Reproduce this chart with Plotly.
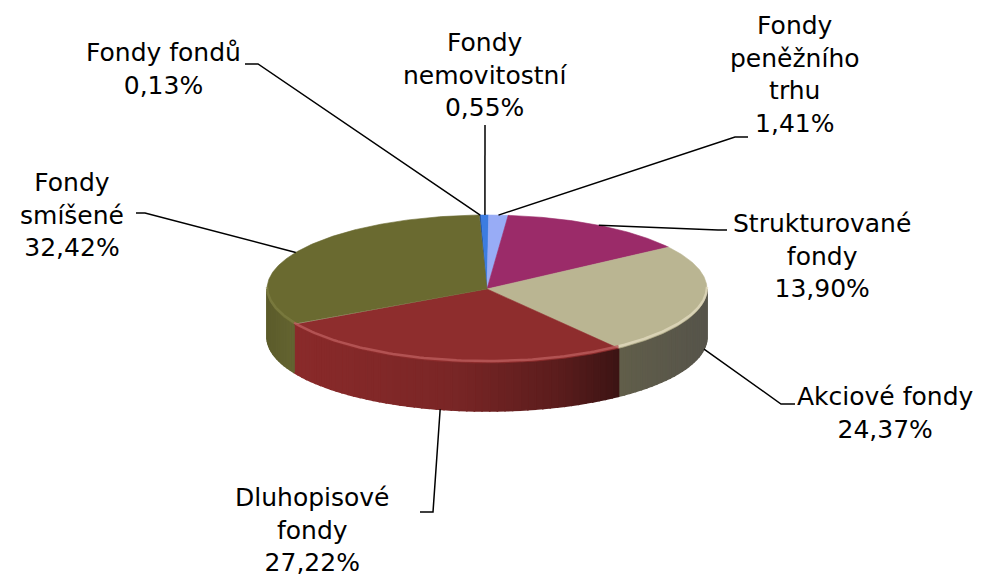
import numpy as np
import plotly.graph_objects as go

# ---- data ----
categories = ["Fondy fondů", "Fondy nemovitostní", "Fondy peněžního trhu",
              "Strukturované fondy", "Akciové fondy", "Dluhopisové fondy", "Fondy smíšené"]
values = [0.13, 0.55, 1.41, 13.90, 24.37, 27.22, 32.42]
label_lines = [["Fondy fondů"], ["Fondy", "nemovitostní"], ["Fondy", "peněžního", "trhu"],
               ["Strukturované", "fondy"], ["Akciové fondy"], ["Dluhopisové", "fondy"],
               ["Fondy", "smíšené"]]

# ---- style / layout ----
top_colors = ["#1f55b0", "#3c7ce0", "#98acf6", "#9b2b69", "#bab592", "#8e2d2d", "#6a6a30"]
side_stops = {
    4: [(618, "#615e4a"), (705, "#56544a")],
    5: [(293, "#8a2a2a"), (450, "#7a2626"), (560, "#5a1c1c"), (618, "#3c1414")],
    6: [(267, "#5c5c2b"), (294, "#646431")],
}
CX, CY, RX, RY, DEPTH, START = 487, 289, 220, 74, 48, -2.0
# label block centres and leader start points (layout)
label_pos = [(163, 69), (485, 75), (795, 74), (822, 256), (885, 413), (312, 530), (72, 215)]
leader_from = [[(245, 64), (258, 64)], [(485, 125)], [(748, 137), (735, 137)],
               [(727, 230), (718, 230)], [(795, 404), (781, 404)],
               [(420, 512), (433, 512)], [(136, 213), (145, 213)]]
FONT = dict(family="DejaVu Sans, Liberation Sans, Arial, sans-serif", size=25, color="#000000")


def pt(theta, dy=0.0):
    t = np.radians(theta)
    return CX + RX * np.sin(t), CY - RY * np.cos(t) + dy


def hex2rgb(h):
    h = h.lstrip("#")
    return np.array([int(h[i:i + 2], 16) for i in (0, 2, 4)], dtype=float)


def interp_color(stops, x):
    xs = [s[0] for s in stops]
    cols = [hex2rgb(s[1]) for s in stops]
    if x <= xs[0]:
        c = cols[0]
    elif x >= xs[-1]:
        c = cols[-1]
    else:
        for k in range(len(xs) - 1):
            if xs[k] <= x <= xs[k + 1]:
                f = (x - xs[k]) / (xs[k + 1] - xs[k])
                c = cols[k] * (1 - f) + cols[k + 1] * f
                break
    return "rgb(%d,%d,%d)" % tuple(np.round(c).astype(int))


total = float(sum(values))
cum = START + np.concatenate([[0.0], np.cumsum(values)]) / total * 360.0

fig = go.Figure()

# ---- sides (front half only) ----
for i in range(len(values)):
    a0, a1 = max(cum[i], 90.0), min(cum[i + 1], 270.0)
    if a1 <= a0:
        continue
    n = max(1, int(np.ceil((a1 - a0) / 2.0)))
    edges = np.linspace(a0, a1, n + 1)
    for j in range(n):
        t0, t1 = edges[j], edges[j + 1]
        ts = np.linspace(t0, t1, 4)
        topx, topy = pt(ts)
        botx, boty = pt(ts[::-1], DEPTH)
        xs = list(topx) + list(botx) + [topx[0]]
        ys = list(topy) + list(boty) + [topy[0]]
        mx = pt((t0 + t1) / 2)[0]
        col = interp_color(side_stops.get(i, [(0, top_colors[i])]), mx)
        fig.add_trace(go.Scatter(x=xs, y=ys, mode="lines", fill="toself",
                                 fillcolor=col, line=dict(color=col, width=1.6),
                                 hoverinfo="skip", showlegend=False))

# ---- top surfaces ----
for i in range(len(values)):
    ts = np.linspace(cum[i], cum[i + 1], max(2, int((cum[i + 1] - cum[i]) * 2) + 2))
    ax, ay = pt(ts)
    xs = [CX] + list(ax) + [CX]
    ys = [CY] + list(ay) + [CY]
    fig.add_trace(go.Scatter(x=xs, y=ys, mode="lines", fill="toself",
                             fillcolor=top_colors[i],
                             line=dict(color=top_colors[i], width=0.6),
                             hoverinfo="skip", showlegend=False))

# subtle rim highlight on front top edge
rim_colors = {4: "rgba(225,218,190,0.8)", 5: "rgba(190,95,95,0.75)", 6: "rgba(130,130,70,0.6)"}
for i, rc in rim_colors.items():
    a0, a1 = max(cum[i], 90.0), min(cum[i + 1], 270.0)
    if a1 <= a0:
        continue
    ts = np.linspace(a0, a1, 80)
    rx_, ry_ = pt(ts, -2.0)
    fig.add_trace(go.Scatter(x=rx_, y=ry_, mode="lines", line=dict(color=rc, width=2.5),
                             hoverinfo="skip", showlegend=False))

# ---- leader lines and labels ----
for i in range(len(values)):
    mid = (cum[i] + cum[i + 1]) / 2
    if 90 < mid < 270:
        ex, ey = pt(mid, DEPTH)
    else:
        ex, ey = pt(mid)
    pts = leader_from[i] + [(ex, ey)]
    fig.add_trace(go.Scatter(x=[p[0] for p in pts], y=[p[1] for p in pts], mode="lines",
                             line=dict(color="#000000", width=1.5),
                             hoverinfo="skip", showlegend=False))
    pct = ("%.2f" % values[i]).replace(".", ",") + "%"
    text = "<br>".join(label_lines[i] + [pct])
    fig.add_annotation(x=label_pos[i][0], y=label_pos[i][1], text=text, showarrow=False,
                       xanchor="center", yanchor="middle", align="center", font=FONT)

fig.update_layout(
    width=983, height=584, autosize=False,
    margin=dict(l=0, r=0, t=0, b=0),
    paper_bgcolor="white", plot_bgcolor="white",
    xaxis=dict(range=[0, 983], visible=False, fixedrange=True),
    yaxis=dict(range=[584, 0], visible=False, fixedrange=True),
    showlegend=False,
)

fig.write_html("out.html", config={"displayModeBar": False},
               post_script="document.body.style.margin='0px';document.body.style.overflow='hidden';")
